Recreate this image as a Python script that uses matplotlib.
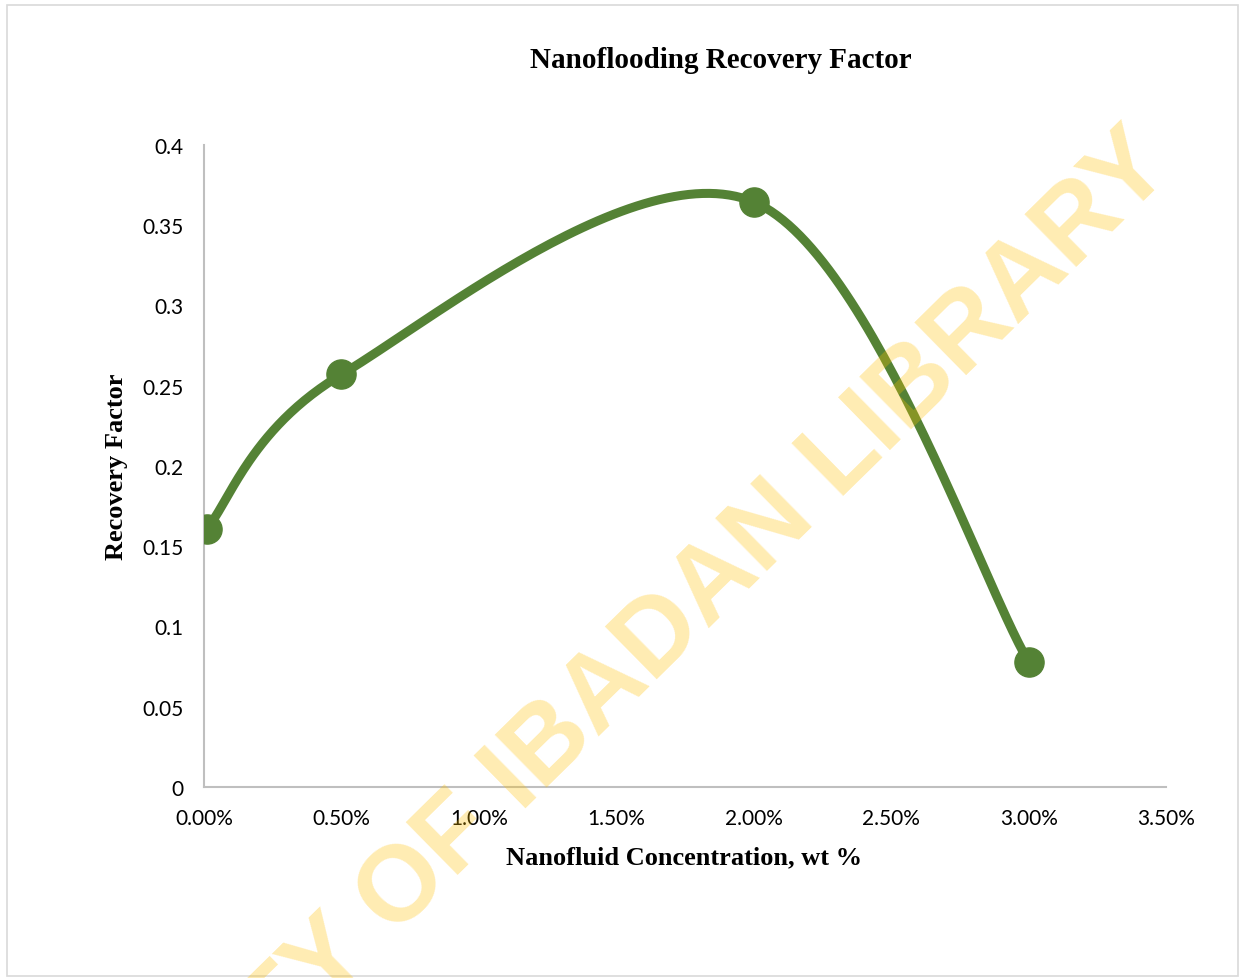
import numpy as np
import matplotlib
matplotlib.use("Agg")
import matplotlib.pyplot as plt
from matplotlib.patches import Rectangle

# data
conc = [0.0001, 0.005, 0.02, 0.03]
recovery = [0.161, 0.257, 0.3645, 0.078]
x_ticks = [0, 0.005, 0.01, 0.015, 0.02, 0.025, 0.03, 0.035]
y_ticks = [0, 0.05, 0.1, 0.15, 0.2, 0.25, 0.3, 0.35, 0.4]
y_tick_labels = ['0', '0.05', '0.1', '0.15', '0.2', '0.25', '0.3', '0.35', '0.4']

green = '#548235'


def smooth(xs, ys, n=60):
    # Excel style smoothed line (Catmull-Rom as cubic Bezier)
    p = np.column_stack([xs, ys]).astype(float)
    p = np.vstack([p[0], p, p[-1]])
    out = []
    t = np.linspace(0, 1, n)[:, None]
    for i in range(1, len(p) - 2):
        p0, p3 = p[i], p[i + 1]
        c1 = p0 + (p[i + 1] - p[i - 1]) / 6
        c2 = p3 - (p[i + 2] - p[i]) / 6
        seg = ((1 - t) ** 3) * p0 + 3 * ((1 - t) ** 2) * t * c1 + 3 * (1 - t) * t ** 2 * c2 + t ** 3 * p3
        out.append(seg)
    out = np.vstack(out)
    return out[:, 0], out[:, 1]


fig = plt.figure(figsize=(12.45, 9.79), dpi=100)
ax = fig.add_axes([0.1639, 0.1951, 0.7727, 0.6558])

sx, sy = smooth(conc, recovery)
ax.plot(sx, sy, color=green, linewidth=6.5, solid_capstyle='round', zorder=3)
ax.plot(conc, recovery, 'o', color=green, markersize=21, zorder=4)

ax.set_xlim(0, 0.035)
ax.set_ylim(0, 0.4)
ax.set_xticks(x_ticks)
ax.set_xticklabels(['{:.2f}%'.format(v * 100) for v in x_ticks])
ax.set_yticks(y_ticks)
ax.set_yticklabels(y_tick_labels)
ax.tick_params(length=0, labelsize=15, pad=15, labelcolor='black')
for lab in ax.get_xticklabels() + ax.get_yticklabels():
    lab.set_family('Lato')

for s in ['top', 'right']:
    ax.spines[s].set_visible(False)
for s in ['left', 'bottom']:
    ax.spines[s].set_color('#BFBFBF')
    ax.spines[s].set_linewidth(1.5)

serif = 'Liberation Serif'
fig.text(721 / 1245, 1 - 60 / 979, 'Nanoflooding Recovery Factor', ha='center', va='center',
         fontsize=21, fontweight='bold', family=serif)
fig.text(684 / 1245, 1 - 858 / 979, 'Nanofluid Concentration, wt %', ha='center', va='center',
         fontsize=19, fontweight='bold', family=serif)
fig.text(117 / 1245, 1 - 467 / 979, 'Recovery Factor', ha='center', va='center', rotation=90,
         fontsize=19, fontweight='bold', family=serif)

# chart border
fig.patches.append(Rectangle((7 / 1245, 2 / 979), 1231 / 1245, 971 / 979, transform=fig.transFigure,
                             fill=False, edgecolor='#D9D9D9', linewidth=1.2))

# watermark
fig.text(1120 / 1245, 1 - 115 / 979, 'UNIVERSITY OF IBADAN LIBRARY', ha='right', va='top',
         rotation=44.5, rotation_mode='anchor', fontsize=77, fontweight='bold',
         family='Liberation Sans', color='#FFC000', alpha=0.3, zorder=10)

fig.savefig('out.png', dpi=100)
